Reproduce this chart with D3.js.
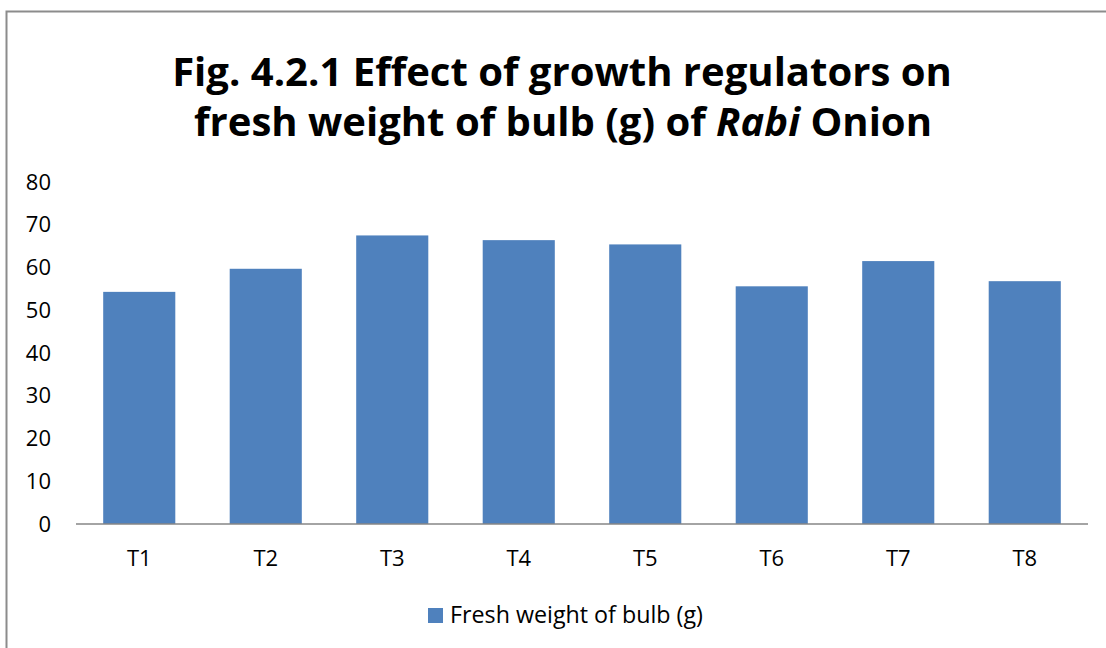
<!DOCTYPE html>
<html>
<head>
<meta charset="utf-8">
<script src="https://cdn.jsdelivr.net/npm/d3@7"></script>
<style>
  body { margin: 0; background: #fff; }
  svg { display: block; font-family: "Open Sans", "Liberation Sans", sans-serif; }
</style>
</head>
<body>
<svg width="1106" height="648"></svg>
<script>
const categories = ['T1', 'T2', 'T3', 'T4', 'T5', 'T6', 'T7', 'T8'];
const freshWeight = [54.3, 59.7, 67.5, 66.4, 65.4, 55.6, 61.5, 56.8];
const yTicks = [0, 10, 20, 30, 40, 50, 60, 70, 80];
const seriesName = 'Fresh weight of bulb (g)';

const svg = d3.select('svg');

// chart frame (cut off at right and bottom)
svg.append('path')
  .attr('d', 'M6.5,648 L6.5,11.5 L1106,11.5')
  .attr('fill', 'none')
  .attr('stroke', '#8c8c8c')
  .attr('stroke-width', 2);

// title
const title = svg.append('text')
  .attr('text-anchor', 'middle')
  .attr('font-weight', 'bold')
  .attr('fill', '#000');

const line1 = title.append('tspan')
  .attr('x', 562).attr('y', 86)
  .text('Fig. 4.2.1 Effect of growth regulators on');

const line2 = title.append('tspan')
  .attr('x', 563).attr('y', 136);
line2.append('tspan').text('fresh weight of bulb (g) of ');
line2.append('tspan').attr('font-style', 'italic').text('Rabi');
line2.append('tspan').text(' Onion');

// fit title width to reference
title.attr('font-size', 40);
const w1 = line1.node().getComputedTextLength();
title.attr('font-size', 40 * 780 / w1);

const x = d3.scaleBand()
  .domain(categories)
  .range([76, 1088])
  .paddingInner(0.43)
  .paddingOuter(0.215);

const y = d3.scaleLinear()
  .domain([0, 80])
  .range([524, 182]);

const g = svg.append('g');

g.selectAll('rect.bar')
  .data(freshWeight)
  .join('rect')
  .attr('class', 'bar')
  .attr('x', (d, i) => x(categories[i]))
  .attr('y', d => y(d))
  .attr('width', x.bandwidth())
  .attr('height', d => y(0) - y(d))
  .attr('fill', '#4f81bd');

// y axis labels
const yAxis = d3.axisLeft(y).tickValues(yTicks).tickSize(0).tickPadding(0);
svg.append('g')
  .attr('transform', 'translate(51,0)')
  .call(yAxis)
  .call(s => s.select('.domain').remove())
  .call(s => s.selectAll('text')
    .attr('font-size', 22)
    .attr('fill', '#000')
    .attr('font-family', '"Open Sans", sans-serif'));

// x axis
const xAxis = d3.axisBottom(x).tickSize(0).tickPadding(26);
svg.append('g')
  .attr('transform', 'translate(0,524)')
  .call(xAxis)
  .call(s => s.select('.domain')
    .attr('d', 'M76,0 H1088')
    .attr('stroke', '#868686')
    .attr('stroke-width', 1.5))
  .call(s => s.selectAll('text')
    .attr('font-size', 22)
    .attr('fill', '#000')
    .attr('font-family', '"Open Sans", sans-serif'));

// legend
const legend = svg.append('g');
legend.append('rect')
  .attr('x', 428).attr('y', 608)
  .attr('width', 15).attr('height', 15)
  .attr('fill', '#4f81bd');
const legendText = legend.append('text')
  .attr('x', 450).attr('y', 623)
  .attr('font-size', 22)
  .attr('fill', '#000')
  .text(seriesName);
const lw = legendText.node().getComputedTextLength();
legendText.attr('font-size', 22 * 253 / lw);
</script>
</body>
</html>
